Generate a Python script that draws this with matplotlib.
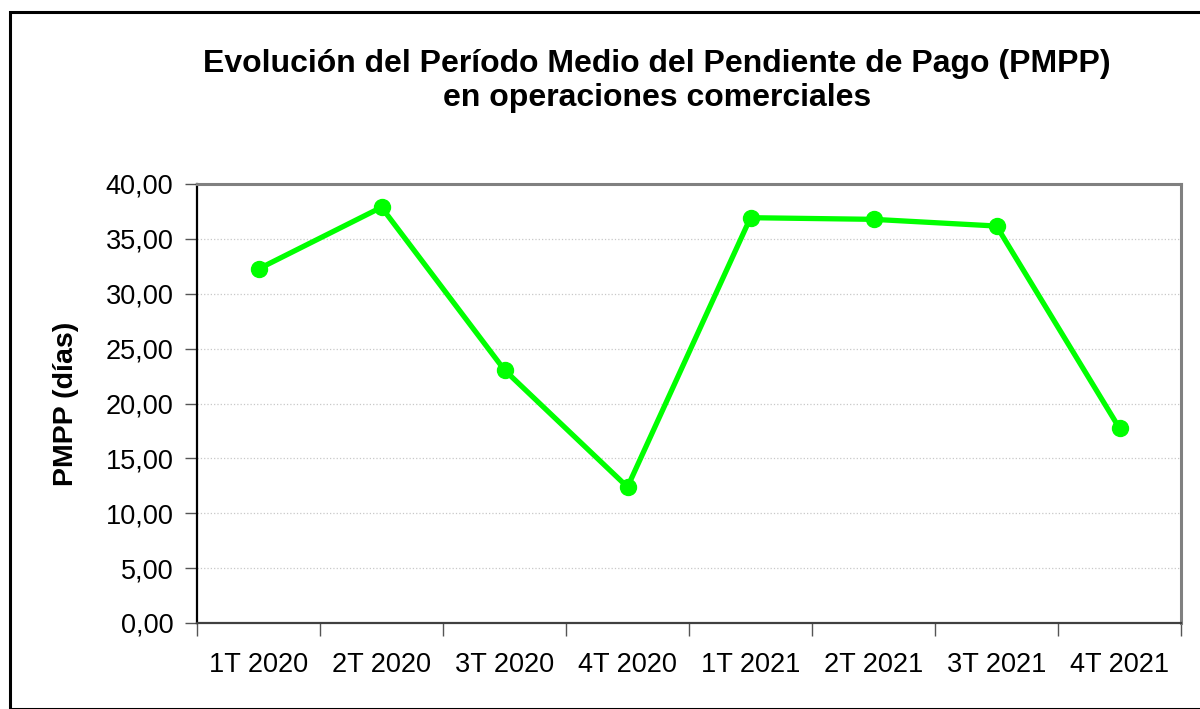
import numpy as np
import matplotlib
matplotlib.use("Agg")
import matplotlib.pyplot as plt
from matplotlib.patches import Rectangle
from matplotlib.ticker import FixedLocator, FuncFormatter

plt.rcParams['font.family'] = ['Liberation Sans', 'DejaVu Sans']

# data
quarters = ['1T 2020', '2T 2020', '3T 2020', '4T 2020',
            '1T 2021', '2T 2021', '3T 2021', '4T 2021']
pmpp_days = [32.26, 37.88, 23.05, 12.39, 36.93, 36.78, 36.17, 17.74]

W, H = 1200, 709
fig = plt.figure(figsize=(W / 100, H / 100), dpi=100)

# outer chart border (runs off the right/bottom edge like the original)
fig.patches.append(Rectangle((10 / W, 0), 1.2, 1 - 12 / H, transform=fig.transFigure,
                             fill=False, edgecolor='black', linewidth=2.2, zorder=0))

left, right, top, bottom = 197, 1181, 184, 623
ax = fig.add_axes([left / W, 1 - bottom / H, (right - left) / W, (bottom - top) / H])

x = np.arange(len(quarters)) + 0.5
ax.plot(x, pmpp_days, color='#00ff00', linewidth=3.8, marker='o',
        markersize=11.5, markeredgecolor='#00ff00', zorder=3, clip_on=False)

ax.set_xlim(0, len(quarters))
ax.set_ylim(0, 40)
ax.set_yticks(np.arange(0, 41, 5))
ax.yaxis.set_major_formatter(FuncFormatter(lambda v, p: f"{v:.2f}".replace('.', ',')))
ax.xaxis.set_major_locator(FixedLocator(x))
ax.set_xticklabels(quarters)
ax.xaxis.set_minor_locator(FixedLocator(np.arange(len(quarters) + 1)))
ax.tick_params(axis='x', which='major', length=0, pad=21, labelsize=19.5)
ax.tick_params(axis='x', which='minor', length=9, width=1, color='#555555', direction='out')
ax.tick_params(axis='y', length=9, width=1, color='#555555', labelsize=19.5, pad=8)

ax.grid(axis='y', color='#c8c8c8', linestyle=':', linewidth=0.9)
ax.set_axisbelow(True)

for side in ['top', 'right']:
    ax.spines[side].set_color('#808080')
    ax.spines[side].set_linewidth(2.2)
ax.spines['left'].set_color('black')
ax.spines['bottom'].set_color('#404040')
ax.spines['left'].set_linewidth(1.6)
ax.spines['bottom'].set_linewidth(1.6)

ax.set_ylabel('PMPP (días)', fontsize=20.5, fontweight='bold', labelpad=19)

fig.text(657 / W, 1 - 81 / H,
         'Evolución del Período Medio del Pendiente de Pago (PMPP)\nen operaciones comerciales',
         ha='center', va='center', fontsize=23, fontweight='bold', linespacing=1.2)

fig.savefig('out.png', dpi=100)
